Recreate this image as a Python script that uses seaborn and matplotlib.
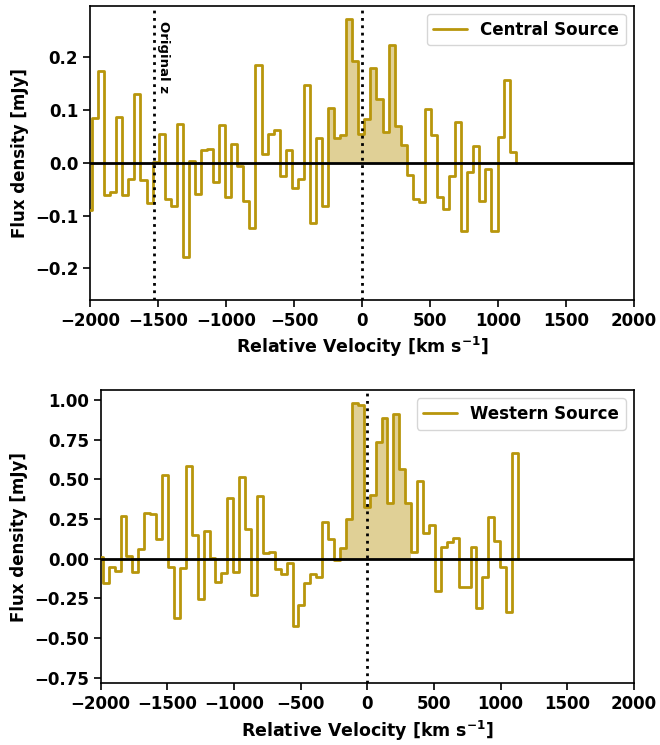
import numpy as np
import pandas as pd
import matplotlib
matplotlib.use('Agg')
import matplotlib.pyplot as plt
import seaborn as sns

# velocity grid of the spectra (km/s), first channel is partly outside the axis
chan_start = -2029.5
chan_width = 44.5

central_flux = [-0.090, 0.085, 0.175, -0.060, -0.055, 0.087, -0.061, -0.030, 0.130, -0.033,
                -0.076, 0.002, 0.054, -0.068, -0.082, 0.074, -0.178, 0.003, -0.059, 0.025,
                0.027, -0.037, 0.072, -0.064, 0.035, -0.005, -0.073, -0.124, 0.185, 0.016,
                0.054, 0.062, -0.024, 0.025, -0.047, -0.031, 0.147, -0.114, 0.048, -0.082,
                0.105, 0.048, 0.053, 0.273, 0.194, 0.055, 0.083, 0.180, 0.122, 0.058,
                0.224, 0.070, 0.034, -0.023, -0.068, -0.075, 0.102, 0.053, -0.064, -0.088,
                -0.024, 0.078, -0.129, -0.018, 0.032, -0.072, -0.011, -0.129, 0.050, 0.157,
                0.020]

western_flux = [0.013, -0.151, -0.054, -0.075, 0.272, 0.017, -0.082, 0.060, 0.291, 0.282,
                0.126, 0.527, -0.054, -0.371, -0.060, 0.585, 0.150, -0.257, 0.172, 0.005,
                -0.144, -0.093, 0.382, -0.086, 0.513, 0.190, -0.226, 0.393, 0.034, 0.045,
                -0.067, -0.099, -0.025, -0.425, -0.292, -0.156, -0.097, -0.114, 0.233, 0.122,
                -0.008, 0.067, 0.253, 0.980, 0.969, 0.324, 0.400, 0.738, 0.890, 0.349,
                0.912, 0.565, 0.351, 0.040, 0.492, 0.164, 0.210, -0.206, 0.071, 0.107,
                0.129, -0.177, -0.181, 0.076, -0.313, -0.118, 0.265, 0.114, -0.055, -0.334,
                0.664]

# velocity window of the line emission (shaded)
line_window = (-250, 330)
original_z_velocity = -1530

panels = [
    ('Central Source', central_flux, (-0.26, 0.298), True),
    ('Western Source', western_flux, (-0.786, 1.064), False),
]

sns.set_style('ticks')
plt.rcParams['font.family'] = ['DejaVu Sans']
plt.rcParams['font.weight'] = 'bold'
plt.rcParams['axes.labelweight'] = 'bold'
plt.rcParams['text.color'] = 'black'
plt.rcParams['axes.labelcolor'] = 'black'
plt.rcParams['xtick.color'] = 'black'
plt.rcParams['ytick.color'] = 'black'

line_col = '#b8960c'
fill_col = '#e0d096'

fig = plt.figure(figsize=(6.6, 7.45), dpi=100)
positions = [[0.1364, 0.5973, 0.8242, 0.3950],
             [0.1526, 0.0828, 0.8080, 0.3937]]

for (name, flux, ylim, show_z), pos in zip(panels, positions):
    ax = fig.add_axes(pos)
    flux = np.asarray(flux)
    edges = chan_start + chan_width * np.arange(len(flux) + 1)
    df = pd.DataFrame({'vel': edges, 'flux': np.append(flux, 0.0)})

    centres = edges[:-1] + chan_width / 2
    sel = (centres > line_window[0]) & (centres < line_window[1])
    idx = np.where(sel)[0]
    fx = edges[idx[0]:idx[-1] + 2]
    fy = np.append(flux[idx], flux[idx[-1]])
    ax.fill_between(fx, fy, 0, step='post', color=fill_col, lw=0, zorder=1)

    sns.lineplot(data=df, x='vel', y='flux', ax=ax, drawstyle='steps-post',
                 estimator=None, color=line_col, lw=2, label=name, zorder=3)

    ax.axhline(0, color='black', lw=2, zorder=4)
    ax.axvline(0, color='black', ls=':', lw=2, zorder=5)
    if show_z:
        ax.axvline(original_z_velocity, color='black', ls=':', lw=2, zorder=5)
        ax.text(original_z_velocity + 25, 0.27, 'Original z', rotation=270,
                ha='left', va='top', fontsize=9.5, fontweight='bold')

    ax.set_xlim(-2000, 2000)
    ax.set_ylim(*ylim)
    ax.set_xlabel('Relative Velocity [km s$^{\\mathbf{-1}}$]', fontsize=12.5,
                  fontweight='bold')
    ax.set_ylabel('Flux density [mJy]', fontsize=12, fontweight='bold')
    ax.tick_params(labelsize=12, width=1.2, length=5)
    for lab in ax.get_xticklabels() + ax.get_yticklabels():
        lab.set_fontweight('bold')
    for sp in ax.spines.values():
        sp.set_visible(True)
        sp.set_color('black')
        sp.set_linewidth(1.2)
    leg = ax.legend(loc='upper right', fontsize=12, handlelength=2.0)
    for t in leg.get_texts():
        t.set_fontweight('bold')
        t.set_color('black')

fig.savefig('out.png', dpi=100)
